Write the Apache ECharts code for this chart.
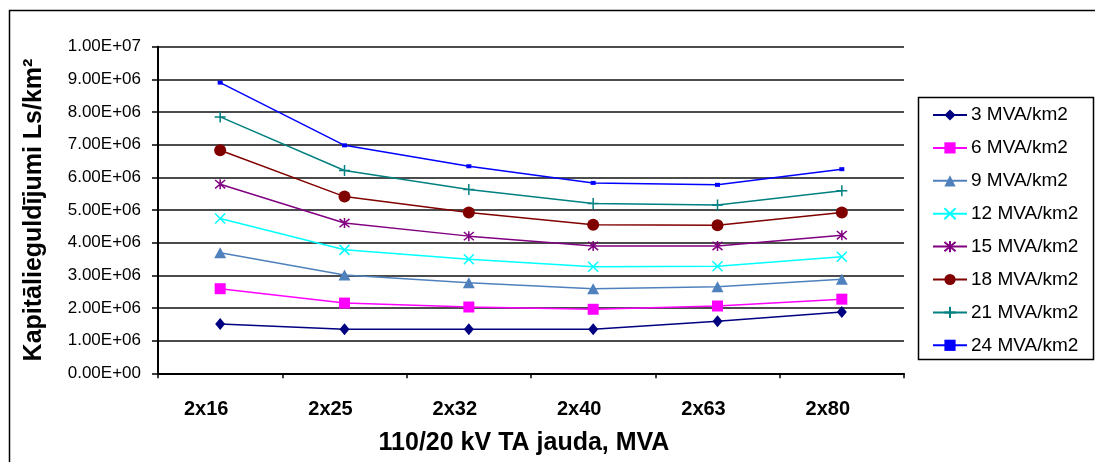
<!DOCTYPE html>
<html>
<head>
<meta charset="utf-8">
<script src="https://cdn.jsdelivr.net/npm/echarts@6/dist/echarts.min.js"></script>
<style>
  html, body { margin: 0; padding: 0; background: #fff; }
  #chart { width: 1095px; height: 462px; }
</style>
</head>
<body>
<div id="chart"></div>
<script>
// Transformer capacity options (x axis categories)
const categories = ['2x16', '2x25', '2x32', '2x40', '2x63', '2x80'];

// Capital investment, Ls/km², for each load density
const seriesNames = ['3 MVA/km2', '6 MVA/km2', '9 MVA/km2', '12 MVA/km2',
                     '15 MVA/km2', '18 MVA/km2', '21 MVA/km2', '24 MVA/km2'];
const load3  = [1510000, 1350000, 1350000, 1350000, 1590000, 1880000];
const load6  = [2590000, 2150000, 2030000, 1960000, 2060000, 2270000];
const load9  = [3690000, 3010000, 2770000, 2590000, 2650000, 2880000];
const load12 = [4740000, 3780000, 3490000, 3260000, 3280000, 3570000];
const load15 = [5790000, 4600000, 4200000, 3900000, 3900000, 4230000];
const load18 = [6830000, 5410000, 4920000, 4550000, 4530000, 4920000];
const load21 = [7850000, 6210000, 5630000, 5200000, 5150000, 5590000];
const load24 = [8900000, 6980000, 6340000, 5830000, 5770000, 6250000];

// Y axis range and step
const yMin = 0, yMax = 10000000, yStep = 1000000;

const xTitle = '110/20 kV TA jauda, MVA';
const yTitle = 'Kapitālieguldījumi Ls/km²';

const seriesData = [load3, load6, load9, load12, load15, load18, load21, load24];
const colors = ['#000080', '#FF00FF', '#4F81BD', '#00FFFF', '#800080', '#800000', '#008080', '#0000FF'];

// Marker shapes; stroked ones are drawn as outline paths
const crossPath = 'path://M0,0L10,10M10,0L0,10';
const starPath = 'path://M0,0L10,10M10,0L0,10M5,-1L5,11';
const plusPath = 'path://M5,0L5,10M0,5L10,5';
const markers = [
  { symbol: 'diamond', size: [10, 12], filled: true },
  { symbol: 'rect', size: 11, filled: true },
  { symbol: 'triangle', size: [12, 11], filled: true },
  { symbol: crossPath, size: 10, filled: false },
  { symbol: starPath, size: 10, filled: false },
  { symbol: 'circle', size: 12, filled: true },
  { symbol: plusPath, size: 11, filled: false },
  { symbol: 'rect', size: [5, 4], filled: true }
];

const sansFont = '"Liberation Sans", Arial, sans-serif';

function sci(v) {
  if (v === 0) return '0.00E+00';
  const e = Math.floor(Math.log10(Math.abs(v)));
  const m = v / Math.pow(10, e);
  return m.toFixed(2) + 'E' + (e < 0 ? '-' : '+') + String(Math.abs(e)).padStart(2, '0');
}

const series = seriesNames.map((name, i) => {
  const mk = markers[i];
  return {
    name: name,
    type: 'line',
    data: seriesData[i],
    symbol: mk.symbol,
    symbolSize: mk.size,
    showAllSymbol: true,
    lineStyle: { color: colors[i], width: 1.5 },
    itemStyle: mk.filled
      ? { color: colors[i] }
      : { color: 'rgba(0,0,0,0)', borderColor: colors[i], borderWidth: 1.5 },
    emphasis: { disabled: true },
    animation: false,
    z: 3 + i
  };
});

const chart = echarts.init(document.getElementById('chart'));
chart.setOption({
  animation: false,
  backgroundColor: '#ffffff',
  color: colors,
  grid: { left: 158, top: 46.7, right: 191, bottom: 88.7, containLabel: false },
  xAxis: {
    type: 'category',
    data: categories,
    boundaryGap: true,
    axisLine: { show: true, lineStyle: { color: '#000', width: 2 } },
    axisTick: { show: true, length: 5, inside: false, lineStyle: { color: '#000', width: 1.5 } },
    axisLabel: {
      margin: 26,
      color: '#000',
      fontFamily: sansFont,
      fontWeight: 'bold',
      fontSize: 20,
      padding: [0, 28, 0, 0]
    },
    splitLine: { show: false }
  },
  yAxis: {
    type: 'value',
    min: yMin,
    max: yMax,
    interval: yStep,
    axisLine: { show: true, lineStyle: { color: '#000', width: 2 } },
    axisTick: { show: true, length: 6, lineStyle: { color: '#000', width: 1.5 } },
    axisLabel: {
      margin: 17,
      color: '#000',
      fontFamily: sansFont,
      fontSize: 17,
      formatter: sci
    },
    splitLine: { show: true, lineStyle: { color: '#111', width: 1.5 } }
  },
  legend: {
    orient: 'vertical',
    left: 918,
    top: 97,
    padding: [8, 6, 8, 14],
    itemWidth: 34,
    itemHeight: 14,
    itemGap: 12.9,
    textStyle: { color: '#000', fontFamily: sansFont, fontSize: 19, lineHeight: 20, padding: [0, 0, 0, -1] },
    data: seriesNames
  },
  graphic: [
    {
      type: 'rect',
      shape: { x: 9.5, y: 10.5, width: 1200, height: 600 },
      style: { fill: 'none', stroke: '#000', lineWidth: 1.5 },
      silent: true,
      z: -10
    },
    {
      type: 'rect',
      shape: { x: 918.5, y: 97.5, width: 175, height: 262 },
      style: { fill: 'none', stroke: '#000', lineWidth: 1.5 },
      silent: true
    },
    {
      type: 'text',
      x: 34,
      y: 210,
      rotation: Math.PI / 2,
      style: {
        text: yTitle,
        fill: '#000',
        font: 'bold 25px ' + sansFont,
        align: 'center',
        verticalAlign: 'middle'
      },
      silent: true
    },
    {
      type: 'text',
      x: 524,
      y: 443,
      style: {
        text: xTitle,
        fill: '#000',
        font: 'bold 25px ' + sansFont,
        align: 'center',
        verticalAlign: 'middle'
      },
      silent: true
    }
  ],
  series: series
});
</script>
</body>
</html>
